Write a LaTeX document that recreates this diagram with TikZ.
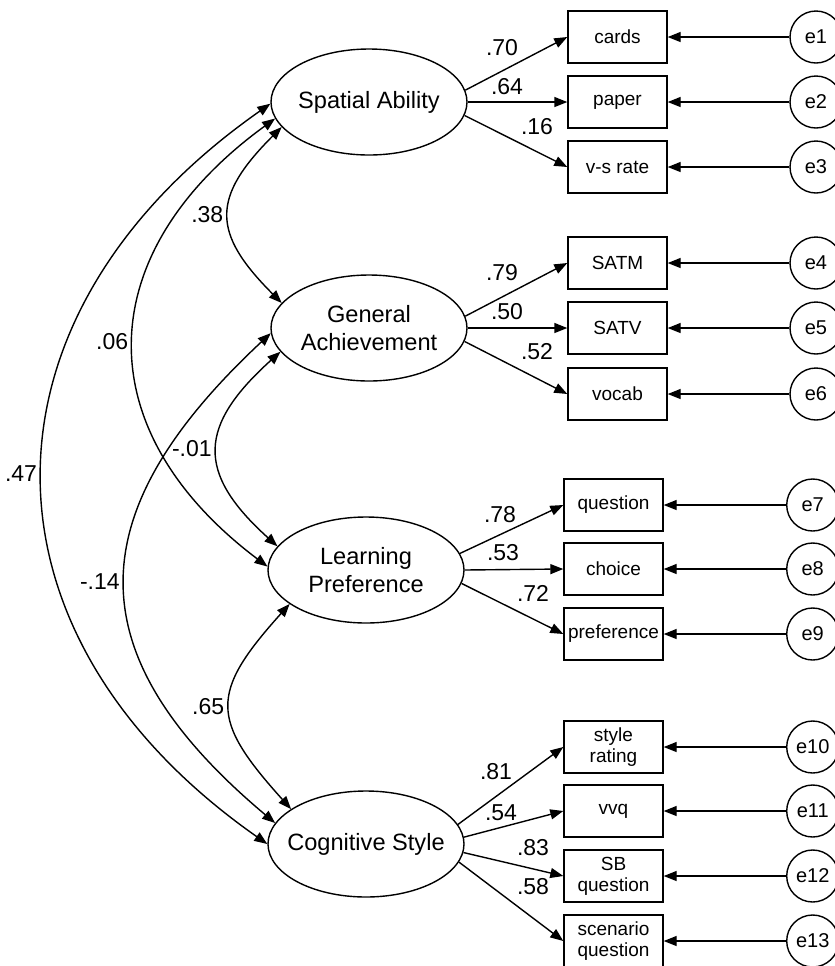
\documentclass[tikz,border=0pt]{standalone}
\usepackage{fontspec}
\setmainfont{Liberation Sans}
\usetikzlibrary{shapes.geometric,arrows.meta}

\tikzset{
  >={Triangle[length=6.5pt,width=5pt]},
  latent/.style={ellipse, draw, minimum width=98pt, minimum height=53pt, inner sep=-6pt, align=center, font=\fontsize{11.8}{14}\selectfont},
  obs/.style={rectangle, draw, minimum width=49.5pt, minimum height=26pt, inner sep=0pt, align=center, font=\fontsize{9.5}{10.5}\selectfont},
  err/.style={circle, draw, minimum size=26pt, inner sep=0pt, font=\fontsize{10}{12}\selectfont},
  coef/.style={inner sep=0pt, font=\fontsize{11.5}{13}\selectfont},
  covlbl/.style={left, inner sep=2.5pt, font=\fontsize{11.5}{13}\selectfont}
}

\begin{document}
\begin{tikzpicture}[x=0.5pt,y=0.5pt,line width=0.7pt]
			\useasboundingbox (0,0) rectangle (835,-966);
			\clip (0,0) rectangle (835,-966);
			% latent factors
			\node[latent] (sa) at (369,-102) {Spatial Ability};
			\node[latent] (ga) at (369,-328) {General\\Achievement};
			\node[latent] (lp) at (366,-570) {Learning\\Preference};
			\node[latent] (cs) at (366,-844) {Cognitive Style};
			% indicators
			\node[obs] (cards) at (617.5,-37) {cards};
			\node[obs] (paper) at (617.5,-102) {paper};
			\node[obs] (vsrate) at (617.5,-167) {v-s rate};
			\node[obs] (satm) at (617.5,-263) {SATM};
			\node[obs] (satv) at (617.5,-328) {SATV};
			\node[obs] (vocab) at (617.5,-394) {vocab};
			\node[obs] (question) at (613.5,-505) {question};
			\node[obs] (choice) at (613.5,-569) {choice};
			\node[obs] (pref) at (613.5,-634) {preference};
			\node[obs] (stylerate) at (613.5,-747) {style\\rating};
			\node[obs] (vvq) at (613.5,-811) {vvq};
			\node[obs] (sbq) at (613.5,-876) {SB\\question};
			\node[obs] (scenq) at (613.5,-941) {scenario\\question};
			% error terms
			\node[err] (e1) at (816,-37) {e1};
			\node[err] (e2) at (816,-102) {e2};
			\node[err] (e3) at (816,-167) {e3};
			\node[err] (e4) at (816,-263) {e4};
			\node[err] (e5) at (816,-328) {e5};
			\node[err] (e6) at (816,-394) {e6};
			\node[err] (e7) at (812.7,-505) {e7};
			\node[err] (e8) at (812.7,-569) {e8};
			\node[err] (e9) at (812.7,-634) {e9};
			\node[err] (e10) at (812.7,-747) {e10};
			\node[err] (e11) at (812.7,-811) {e11};
			\node[err] (e12) at (812.7,-876) {e12};
			\node[err] (e13) at (812.7,-941) {e13};
			% error arrows
			\draw[->] (e1) -- (cards);
			\draw[->] (e2) -- (paper);
			\draw[->] (e3) -- (vsrate);
			\draw[->] (e4) -- (satm);
			\draw[->] (e5) -- (satv);
			\draw[->] (e6) -- (vocab);
			\draw[->] (e7) -- (question);
			\draw[->] (e8) -- (choice);
			\draw[->] (e9) -- (pref);
			\draw[->] (e10) -- (stylerate);
			\draw[->] (e11) -- (vvq);
			\draw[->] (e12) -- (sbq);
			\draw[->] (e13) -- (scenq);
			% loadings
			\draw[->] (sa.7) -- (cards.west);
			\draw[->] (sa.east) -- (paper.west);
			\draw[->] (sa.-8) -- (vsrate.west);
			\draw[->] (ga.7) -- (satm.west);
			\draw[->] (ga.east) -- (satv.west);
			\draw[->] (ga.-8) -- (vocab.west);
			\draw[->] (lp.10) -- (question.west);
			\draw[->] (lp.east) -- (choice.west);
			\draw[->] (lp.-8) -- (pref.west);
			\draw[->] (cs.12) -- (stylerate.west);
			\draw[->] (cs.4) -- (vvq.west);
			\draw[->] (cs.-5) -- (sbq.west);
			\draw[->] (cs.-11) -- (scenq.west);
			% loading labels
			\node[coef] (l1) at (502,-48) {.70};
			\node[coef] (l2) at (507,-87) {.64};
			\node[coef] (l3) at (537,-127) {.16};
			\node[coef] (l4) at (502,-273) {.79};
			\node[coef] (l5) at (507,-312) {.50};
			\node[coef] (l6) at (537,-352) {.52};
			\node[coef] (l7) at (500,-515) {.78};
			\node[coef] (l8) at (503,-553) {.53};
			\node[coef] (l9) at (533,-593) {.72};
			\node[coef] (l10) at (496,-772) {.81};
			\node[coef] (l11) at (501,-813) {.54};
			\node[coef] (l12) at (533,-848) {.83};
			\node[coef] (l13) at (533,-887) {.58};
			% covariances
			\draw[<->] (sa.196) to[out=225,in=135,looseness=1.45] node[covlbl] {.38} (ga.164);
			\draw[<->] (ga.195) to[out=222,in=138,looseness=1.45] node[covlbl] {-.01} (lp.165);
			\draw[<->] (lp.204) to[out=228,in=132,looseness=1.5] node[covlbl] {.65} (cs.155);
			\draw[<->] (sa.190) to[out=216,in=143,looseness=1.3] node[covlbl] {.06} (lp.178);
			\draw[<->] (ga.183) to[out=223,in=140,looseness=1.37] node[covlbl] {-.14} (cs.167);
			\draw[<->] (sa.181) to[out=215,in=145,looseness=1.27] node[covlbl] {.47} (cs.180);
		\end{tikzpicture}
\end{document}
